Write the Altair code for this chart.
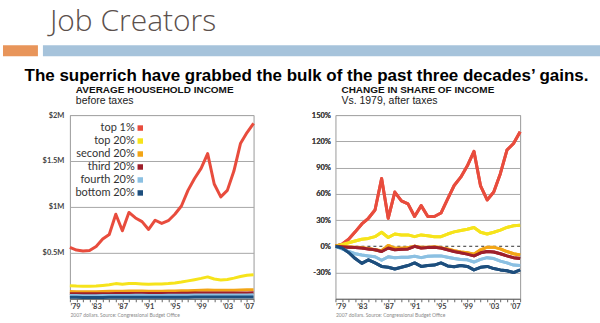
import altair as alt
import pandas as pd

# ---------------- data ----------------
years = list(range(1979, 2008))
groups = ["top 1%", "top 20%", "second 20%", "third 20%", "fourth 20%", "bottom 20%"]
group_colors = ["#e84c3d", "#f6e31b", "#f2a516", "#9e1f2b", "#8bc0e2", "#1d4e7d"]

# average household income before taxes, millions of 2007 dollars
inc_top1 = [0.56, 0.53, 0.52, 0.525, 0.57, 0.65, 0.70, 0.92, 0.74, 0.94, 0.88, 0.84, 0.755, 0.855,
            0.82, 0.85, 0.92, 1.01, 1.18, 1.31, 1.42, 1.58, 1.25, 1.11, 1.18, 1.39, 1.69, 1.81, 1.91]
inc_top20 = [0.142, 0.138, 0.136, 0.136, 0.138, 0.145, 0.152, 0.165, 0.158, 0.165, 0.166, 0.162,
             0.157, 0.16, 0.162, 0.165, 0.172, 0.182, 0.195, 0.208, 0.222, 0.238, 0.215, 0.205,
             0.21, 0.225, 0.242, 0.255, 0.262]
inc_second = [0.078, 0.077, 0.076, 0.076, 0.077, 0.079, 0.081, 0.083, 0.082, 0.084, 0.085, 0.084,
              0.083, 0.083, 0.083, 0.084, 0.085, 0.086, 0.088, 0.091, 0.093, 0.095, 0.094, 0.093,
              0.093, 0.094, 0.096, 0.097, 0.098]
inc_third = [0.056, 0.055, 0.054, 0.054, 0.054, 0.055, 0.056, 0.057, 0.057, 0.058, 0.058, 0.058,
             0.057, 0.057, 0.057, 0.058, 0.058, 0.059, 0.06, 0.062, 0.063, 0.064, 0.063, 0.063,
             0.063, 0.063, 0.064, 0.064, 0.065]
inc_fourth = [0.036, 0.035, 0.034, 0.034, 0.034, 0.035, 0.035, 0.036, 0.036, 0.036, 0.037, 0.037,
              0.036, 0.036, 0.036, 0.037, 0.037, 0.038, 0.039, 0.04, 0.041, 0.042, 0.041, 0.041,
              0.041, 0.041, 0.042, 0.042, 0.043]
inc_bottom = [0.016, 0.016, 0.015, 0.015, 0.015, 0.015, 0.016, 0.016, 0.016, 0.016, 0.016, 0.016,
              0.016, 0.016, 0.016, 0.016, 0.017, 0.017, 0.017, 0.018, 0.018, 0.019, 0.018, 0.018,
              0.018, 0.018, 0.018, 0.019, 0.019]

# change in share of income vs. 1979, after taxes, percent
sh_top1 = [0, 2.5, 8, 16.5, 25.5, 32, 41.5, 77.5, 32, 62, 52, 48.5, 34, 46.5, 34, 34, 38, 54, 69.5,
           79, 92, 108.5, 69, 53, 62, 83, 110, 117.5, 131]
sh_top20 = [0, 2, 4, 6, 8, 9, 11, 16, 10, 14, 13, 13, 11, 13, 12, 11, 11, 14, 16.5, 18, 19.5, 21.5,
            16, 14, 16, 18.5, 21.5, 23.5, 24]
sh_second = [0, 0, -0.5, -1, -1.5, -2.5, -4, -5, 1, -2, -2, -1.5, 0, -1, -1, -0.5, -1.5, -3, -5,
             -6.5, -7.5, -9, -4, -1, -1, -3, -6, -8.5, -10]
sh_third = [0, -0.5, -1, -1.5, -2, -3, -4, -6, -2, -4, -3.5, -3, 0, -2, -1.5, -1, -2, -4, -6, -7.5,
            -9, -11, -7.5, -6, -6.5, -8.5, -11, -13, -14]
sh_fourth = [0, -3, -6, -8.5, -10, -11, -12, -16, -12, -13, -12.5, -12.5, -11.5, -13, -11.5, -11,
             -11, -12.5, -14, -15, -15.5, -18, -15, -13, -14, -17, -19, -21.5, -22]
sh_bottom = [0, -2, -7, -14, -19.5, -15.5, -19, -23, -24, -26, -24, -22, -19, -23, -22, -21.5, -19,
             -22.5, -23.5, -22, -23, -27, -24, -23, -25.5, -27, -28, -30, -27]

year_ticks = years  # a tick every year, a label every fourth year
income_ticks = [0.5, 1, 1.5, 2]
share_ticks = [-30, 0, 30, 60, 90, 120, 150]
share_domain = [-60, 150]
zero_line = [0]

slide_title = "Job Creators"
headline = "The superrich have grabbed the bulk of the past three decades\u2019 gains."
left_title = "AVERAGE HOUSEHOLD INCOME"
left_sub = "before taxes"
right_title = "CHANGE IN SHARE OF INCOME"
right_sub = "Vs. 1979, after taxes"
source_note = "2007 dollars. Source: Congressional Budget Office"


def to_long(series_lists):
    rows = []
    for g, vals in zip(groups, series_lists):
        for y, v in zip(years, vals):
            rows.append({"year": y, "group": g, "value": v})
    return pd.DataFrame(rows)


inc_df = to_long([inc_top1, inc_top20, inc_second, inc_third, inc_fourth, inc_bottom])
sh_df = to_long([sh_top1, sh_top20, sh_second, sh_third, sh_fourth, sh_bottom])
legend_df = pd.DataFrame({"group": groups})
zero_df = pd.DataFrame({"value": zero_line})

color_scale = alt.Scale(domain=groups, range=group_colors)
AX_FONT = "Lato"
TXT_FONT = "Liberation Sans"
ORIGIN = 69  # left edge of the left plot area on the slide


def x_encoding():
    return alt.X(
        "year:Q",
        scale=alt.Scale(domain=[1979, 2007], nice=False, zero=False),
        axis=alt.Axis(
            values=year_ticks,
            labelExpr="(datum.value - 1979) % 4 == 0 ? '\u2019' + substring(toString(datum.value), 2) : ''",
            labelOverlap=False,
            title=source_note, titleAnchor="start", titleFont=AX_FONT, titleFontSize=5,
            titleFontWeight="normal", titleColor="#8a8a8a", titlePadding=2,
            labelFont=AX_FONT, labelFontSize=7.5, labelFontWeight="bold", labelColor="#444",
            labelPadding=1, tickSize=3, tickColor="#666", domainColor="#666", grid=False,
        ),
    )


def title_params(t, s):
    return alt.TitleParams(
        text=t, subtitle=s, anchor="start", frame="group", dx=6,
        font=TXT_FONT, fontSize=10, fontWeight="bold", color="#111",
        subtitleFont=TXT_FONT, subtitleFontSize=10.5, subtitleColor="#222",
        subtitlePadding=1, offset=5,
    )


# ---------------- left panel ----------------
left_lines = alt.Chart(inc_df).mark_line(strokeWidth=3, strokeJoin="round").encode(
    x=x_encoding(),
    y=alt.Y(
        "value:Q",
        scale=alt.Scale(domain=[0, 2], nice=False),
        axis=alt.Axis(
            values=income_ticks, labelExpr="'$' + datum.value + 'M'", title=None, orient="left",
            ticks=False, domain=False, minExtent=ORIGIN, labelPadding=6, labelOverlap=False,
            labelFont=AX_FONT, labelFontSize=7.5, labelFontWeight="bold", labelColor="#444",
            gridColor="#a8a8a8", gridWidth=1,
        ),
    ),
    color=alt.Color("group:N", scale=color_scale, legend=None),
)

legend_y = alt.Y("group:N", scale=alt.Scale(domain=groups, range=[13, 78], padding=0), axis=None)
legend_squares = alt.Chart(legend_df).mark_square(size=30, opacity=1).encode(
    x=alt.value(70.5), y=legend_y,
    color=alt.Color("group:N", scale=color_scale, legend=None),
)
legend_labels = alt.Chart(legend_df).mark_text(
    align="right", baseline="middle", font=AX_FONT, fontSize=11, color="#333"
).encode(x=alt.value(65), y=legend_y, text="group:N")

left = alt.layer(left_lines, legend_squares, legend_labels).resolve_scale(
    y="independent"
).properties(
    width=184, height=184, title=title_params(left_title, left_sub),
    view=alt.ViewBackground(stroke="#9a9a9a"),
)

# ---------------- right panel ----------------
right_lines = alt.Chart(sh_df).mark_line(strokeWidth=3, strokeJoin="round").encode(
    x=x_encoding(),
    y=alt.Y(
        "value:Q",
        scale=alt.Scale(domain=share_domain, nice=False),
        axis=alt.Axis(
            values=share_ticks, labelExpr="datum.value + '%'", title=None, orient="left",
            ticks=False, domain=False, minExtent=ORIGIN, labelPadding=5, labelOverlap=False,
            labelFont=AX_FONT, labelFontSize=7.5, labelFontWeight="bold", labelColor="#444",
            gridColor="#a8a8a8", gridWidth=1,
        ),
    ),
    color=alt.Color("group:N", scale=color_scale, legend=None),
)

zero_y = alt.Y("value:Q", scale=alt.Scale(domain=share_domain, nice=False), axis=None)
zero_backing = alt.Chart(zero_df).mark_rule(color="white", strokeWidth=2).encode(y=zero_y)
zero_dashed = alt.Chart(zero_df).mark_rule(
    strokeDash=[3, 3], color="#333", strokeWidth=1
).encode(y=zero_y)

right = alt.layer(right_lines, zero_backing, zero_dashed, right_lines).resolve_scale(
    y="independent"
).properties(
    width=185, height=184, title=title_params(right_title, right_sub),
    view=alt.ViewBackground(stroke="#9a9a9a"),
)

# ---------------- slide header (positions relative to the left plot origin) ----------------
hdr = alt.Chart(pd.DataFrame({"slide_title": [slide_title], "headline": [headline]}))
orange_bar = hdr.mark_rect(color="#e8955a").encode(
    x=alt.value(2 - ORIGIN), x2=alt.value(37 - ORIGIN), y=alt.value(45), y2=alt.value(56))
blue_bar = hdr.mark_rect(color="#a6c3db").encode(
    x=alt.value(42 - ORIGIN), x2=alt.value(600 - ORIGIN), y=alt.value(45), y2=alt.value(56))
title_txt = hdr.mark_text(
    align="left", baseline="alphabetic", font="Open Sans", fontSize=30, fontWeight=300,
    color="#5b504c"
).encode(x=alt.value(49 - ORIGIN), y=alt.value(31), text="slide_title:N")
headline_txt = hdr.mark_text(
    align="center", baseline="alphabetic", font=TXT_FONT, fontSize=17, fontWeight="bold", color="#000"
).encode(x=alt.value(306 - ORIGIN), y=alt.value(81), text="headline:N")

header = alt.layer(orange_bar, blue_bar, title_txt, headline_txt).properties(
    width=600 - ORIGIN, height=83, view=alt.ViewBackground(stroke=None)
)

panels = alt.hconcat(left, right, spacing=10)

chart = alt.vconcat(header, panels, spacing=0).properties(
    padding=0, background="white"
).configure_view(stroke=None).configure_axis(labelOverlap=False)

chart.save("out.html", embed_options={"renderer": "svg", "actions": False})
